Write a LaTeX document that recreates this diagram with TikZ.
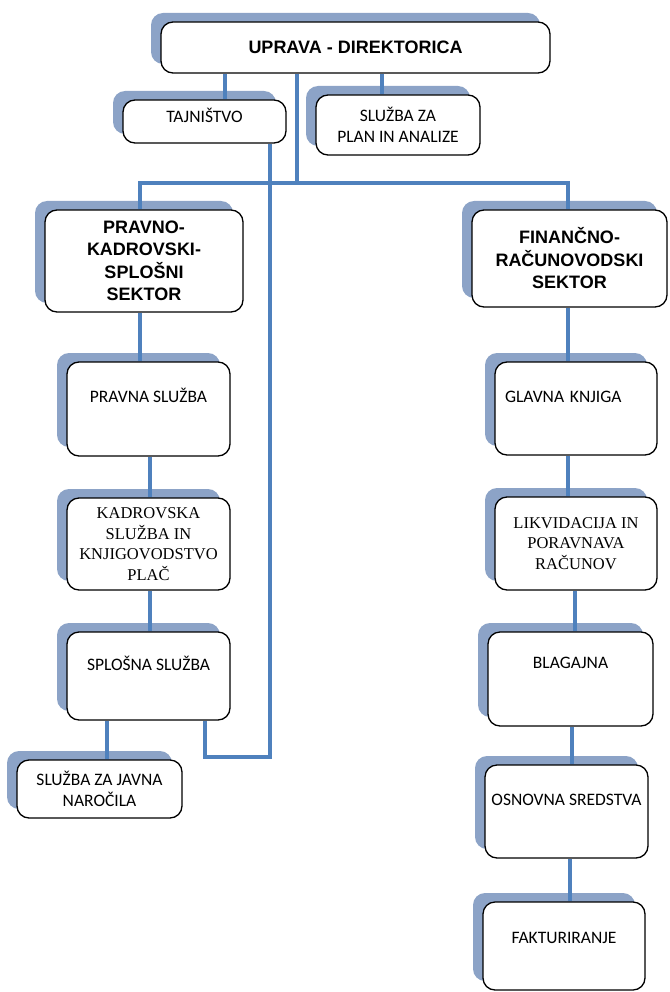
\documentclass[tikz,border=0pt]{standalone}
\usepackage{fontspec}
\usepackage{tikz}
\usetikzlibrary{shadows, positioning}

\newfontfamily\headfont{Liberation Sans}
\newfontfamily\calibfont{Carlito}
\newfontfamily\serifont{Liberation Serif}

\definecolor{shadowblue}{RGB}{140,163,199}
\definecolor{linkblue}{RGB}{79,129,189}

\begin{document}
\begin{tikzpicture}[
    x=1pt, y=-1pt,
    box/.style = {draw=black, line width=1.3pt, rounded corners=12pt, fill=white,
        drop shadow={shadow xshift=-10pt, shadow yshift=9pt, fill=shadowblue, opacity=1}},
    head/.style = {font=\headfont\bfseries\fontsize{18}{22.5}\selectfont, align=center},
    sans/.style = {font=\calibfont\fontsize{17.5}{21.5}\selectfont, align=center},
    serif/.style = {font=\serifont\fontsize{16.5}{20.5}\selectfont, align=center},
    lift/.style = {text height=12pt, text depth=#1},
    link/.style = {draw=linkblue, line width=4.5pt}
]
\useasboundingbox (0,0) rectangle (669,992);

% top level
\node [box, head, minimum width=389pt, minimum height=51pt] (uprava) at (355.5,47.5) {UPRAVA - DIREKTORICA};
\node [box, sans, lift=9pt, minimum width=163pt, minimum height=43pt] (tajnistvo) at (204.5,121.5) {TAJNIŠTVO};
\node [box, sans, minimum width=164pt, minimum height=60pt] (plan) at (398,125) {SLUŽBA ZA\\PLAN IN ANALIZE};

% sectors
\node [box, head, minimum width=198pt, minimum height=102pt] (pravno) at (144,261) {PRAVNO-\\KADROVSKI-\\SPLOŠNI\\SEKTOR};
\node [box, head, minimum width=195pt, minimum height=97pt] (financno) at (569.5,258.5) {FINANČNO-\\RAČUNOVODSKI\\SEKTOR};

% left column
\node [box, sans, lift=26pt, minimum width=163pt, minimum height=94pt] (pravna) at (148.5,409) {PRAVNA SLUŽBA};
\node [box, serif, minimum width=163pt, minimum height=92pt] (kadrovska) at (148.5,544) {KADROVSKA\\SLUŽBA IN\\KNJIGOVODSTVO\\PLAČ};
\node [box, sans, lift=24pt, minimum width=163pt, minimum height=88pt] (splosna) at (148.5,676) {SPLOŠNA SLUŽBA};
\node [box, sans, minimum width=165pt, minimum height=58pt] (javna) at (99.5,789) {SLUŽBA ZA JAVNA\\NAROČILA};

% right column
\node [box, sans, lift=25pt, text width=142pt, align=left, minimum width=162pt, minimum height=93pt] (glavna) at (576,408.5) {GLAVNA KNJIGA};
\node [box, serif, minimum width=162pt, minimum height=93pt] (likvidacija) at (576,543.5) {LIKVIDACIJA IN\\PORAVNAVA\\RAČUNOV};
\node [box, sans, lift=34pt, minimum width=165pt, minimum height=94pt] (blagajna) at (570.5,679) {BLAGAJNA};
\node [box, sans, lift=25pt, minimum width=163pt, minimum height=93pt] (osnovna) at (566.5,811.5) {OSNOVNA SREDSTVA};
\node [box, sans, lift=18pt, minimum width=162pt, minimum height=88pt] (fakturiranje) at (564,946) {FAKTURIRANJE};

\coordinate (bus) at (297,183);
\coordinate (turn) at (270,757);

% connectors
\draw [link] (uprava.south -| 225,0) -- (tajnistvo.north -| 225,0);
\draw [link] (uprava.south -| 382,0) -- (plan.north -| 382,0);
\draw [link] (uprava.south -| bus) -- (bus);
\draw [link] (pravno.north -| 140,0) |- (bus) -| (financno.north -| 568,0);
\draw [link] (tajnistvo.south -| turn) -- (turn) -| (splosna.south -| 205,0);

\draw [link] (pravno.south -| 140,0) -- (pravna.north -| 140,0);
\draw [link] (pravna.south -| 150,0) -- (kadrovska.north -| 150,0);
\draw [link] (kadrovska.south -| 150,0) -- (splosna.north -| 150,0);
\draw [link] (splosna.south -| 107,0) -- (javna.north -| 107,0);

\draw [link] (financno.south -| 568,0) -- (glavna.north -| 568,0);
\draw [link] (glavna.south -| 568,0) -- (likvidacija.north -| 568,0);
\draw [link] (likvidacija.south -| 575,0) -- (blagajna.north -| 575,0);
\draw [link] (blagajna.south -| 572,0) -- (osnovna.north -| 572,0);
\draw [link] (osnovna.south -| 570,0) -- (fakturiranje.north -| 570,0);

\end{tikzpicture}
\end{document}
